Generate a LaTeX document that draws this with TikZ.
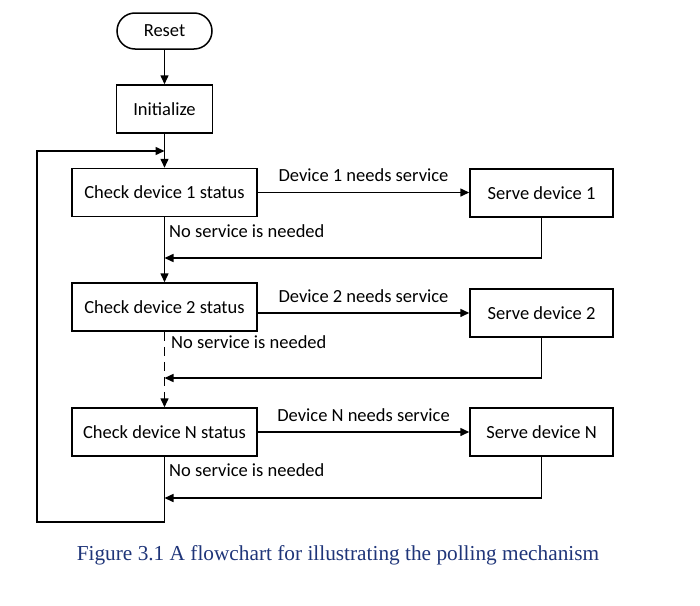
\documentclass[tikz,border=0pt]{standalone}
\usepackage{fontspec}
\setmainfont{Carlito}
\newfontfamily\capfont{Liberation Serif}
\usetikzlibrary{arrows.meta}
\definecolor{capblue}{HTML}{1F3579}
\begin{document}
\begin{tikzpicture}[x=1pt,y=-1pt,
  every node/.style={font=\fontsize{18.5}{21}\selectfont},
  box/.style={draw,line width=1.5pt,minimum height=48pt,inner sep=2pt},
  chk/.style={box,minimum width=185pt},
  srv/.style={box,minimum width=143pt},
  link/.style={line width=1.5pt},
  arr/.style={link,-{Triangle[length=9pt,width=8pt]}},
  lbl/.style={inner sep=0pt}]
\useasboundingbox (0,0) rectangle (700,605);

% process blocks
\node[draw,line width=1.5pt,rounded corners=18pt,minimum width=95pt,minimum height=36pt] (reset) at (164.5,31) {Reset};
\node[box,minimum width=96pt] (init) at (164.5,109) {Initialize};
\node[chk] (c1) at (164.5,192.5) {Check device 1 status};
\node[chk] (c2) at (164.5,307) {Check device 2 status};
\node[chk] (cn) at (164.5,432) {Check device N status};
\node[srv] (s1) at (541.5,193) {Serve device 1};
\node[srv] (s2) at (541.5,313) {Serve device 2};
\node[srv] (sn) at (541.5,432) {Serve device N};

% junction points on the main vertical line
\coordinate (top) at (164.5,151);
\coordinate (j1) at (164.5,258);
\coordinate (j2) at (164.5,378);
\coordinate (jn) at (164.5,498);
\coordinate (loopL) at (37,522);

% main flow
\draw[arr] (reset) -- (init);
\draw[arr] (init) -- (c1);
\draw[arr] (c1) -- (c2);
\draw[arr,dash pattern=on 9pt off 6pt] (c2) -- (cn);

% service requests
\draw[arr] (c1.east) -- node[lbl,above=10pt] {Device 1 needs service} (s1.west |- c1.east);
\draw[arr] (c2.east |- s2.west) -- node[lbl,above=10pt] {Device 2 needs service} (s2.west);
\draw[arr] (cn.east) -- node[lbl,above=10pt] {Device N needs service} (sn.west);

% returns from service
\draw[arr] (s1.south) |- (j1);
\draw[arr] (s2.south) |- (j2);
\draw[arr] (sn.south) |- (jn);

% loop back to the first check
\draw[arr] (cn.south) |- (loopL) |- (top);

% no-service labels
\node[lbl,anchor=west] (n1) at (169,231) {No service is needed};
\node[lbl,anchor=west] (n2) at (171,342) {No service is needed};
\node[lbl,anchor=west] (nn) at (169,470) {No service is needed};

% caption
\node[lbl,text=capblue,font=\capfont\fontsize{21.3}{24}\selectfont] (cap) at (338,555) {Figure 3.1 A flowchart for illustrating the polling mechanism};
\end{tikzpicture}
\end{document}
